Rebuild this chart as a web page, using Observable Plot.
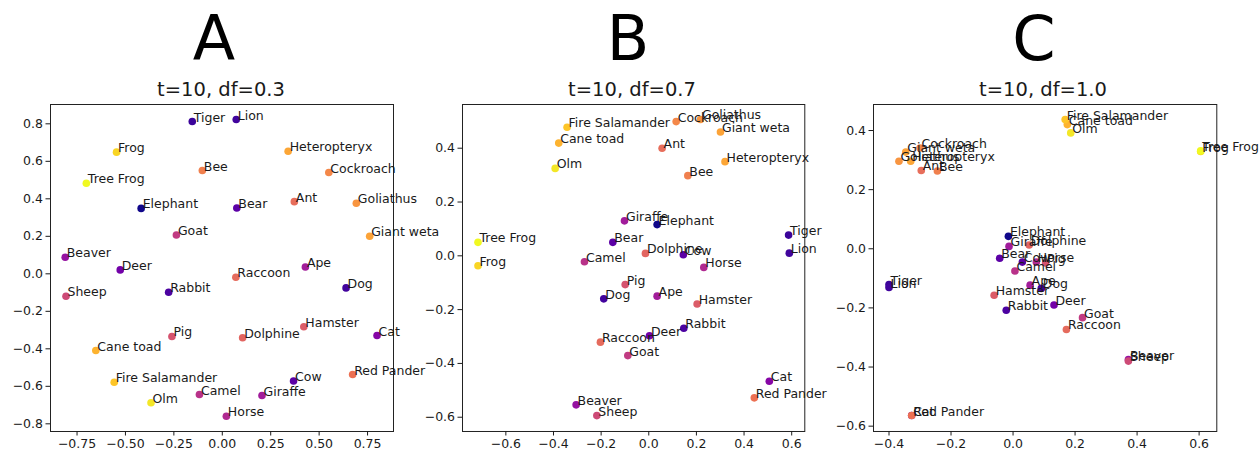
<!DOCTYPE html>
<html>
<head>
<meta charset="utf-8">
<script src="https://cdn.jsdelivr.net/npm/d3@7"></script>
<script src="https://cdn.jsdelivr.net/npm/@observablehq/plot@0.6"></script>
<style>
  html, body { margin: 0; padding: 0; background: #fff; }
  #root { position: relative; width: 1260px; height: 452px; overflow: hidden; background: #fff; font-family: "DejaVu Sans", sans-serif; color: #1a1a1a; }
  .big { position: absolute; top: 7.5px; font-size: 62px; line-height: 62px; transform: translateX(-50%); white-space: nowrap; color: #000; }
  .sub { position: absolute; top: 79.5px; font-size: 19.5px; line-height: 19.5px; transform: translateX(-50%); white-space: nowrap; color: #1a1a1a; }
  .panel { position: absolute; top: 95px; }
  .panel svg { overflow: visible !important; background: transparent !important; }
</style>
</head>
<body>
<div id="root"></div>
<script>
// ---- data ----
const animals = ["Tiger","Lion","Frog","Heteropteryx","Bee","Cockroach","Tree Frog","Elephant","Bear","Ant",
  "Goliathus","Goat","Giant weta","Beaver","Deer","Ape","Raccoon","Dog","Sheep","Rabbit",
  "Hamster","Pig","Dolphine","Cat","Cane toad","Red Pander","Fire Salamander","Cow","Camel","Giraffe",
  "Olm","Horse"];
const animalColors = ["#3b049a","#41049d","#f9d524","#fca636","#f0804e","#f48849","#f0f921","#10078a","#5c01a6","#e76e5b",
  "#f89540","#c13b82","#fca338","#9512a1","#7201a8","#a21d9a","#e56b5d","#42039d","#cd4a76","#4c02a1",
  "#db5c68","#d5536f","#e26561","#8606a6","#fdb32f","#ec7053","#fdc527","#5b01a5","#b83289","#a11c9b",
  "#f3e727","#b02991"];
// Panel A: t=10, df=0.3
const aX = [-0.155,0.072,-0.546,0.340,-0.103,0.550,-0.702,-0.419,0.075,0.372,
  0.692,-0.237,0.761,-0.811,-0.527,0.429,0.070,0.639,-0.807,-0.277,
  0.421,-0.260,0.105,0.799,-0.653,0.673,-0.558,0.368,-0.118,0.205,
  -0.368,0.021];
const aY = [0.812,0.823,0.649,0.654,0.551,0.54,0.483,0.349,0.351,0.385,
  0.376,0.207,0.2,0.088,0.021,0.036,-0.018,-0.075,-0.12,-0.098,
  -0.282,-0.334,-0.341,-0.329,-0.409,-0.537,-0.578,-0.572,-0.644,-0.649,
  -0.688,-0.76];
// Panel B: t=10, df=0.7
const bX = [0.587,0.59,-0.717,0.32,0.164,0.115,-0.717,0.035,-0.151,0.056,
  0.217,-0.088,0.301,-0.305,0.003,0.035,-0.203,-0.189,-0.218,0.147,
  0.203,-0.099,-0.014,0.506,-0.378,0.443,-0.343,0.145,-0.27,-0.102,
  -0.393,0.231];
const bY = [0.077,0.01,-0.037,0.35,0.298,0.499,0.05,0.116,0.05,0.40,
  0.507,-0.371,0.46,-0.554,-0.297,-0.15,-0.321,-0.16,-0.594,-0.269,
  -0.179,-0.107,0.009,-0.466,0.419,-0.528,0.478,0.004,-0.022,0.13,
  0.325,-0.043];
// Panel C: t=10, df=1.0
const cX = [-0.40,-0.40,0.605,-0.33,-0.244,-0.30,0.605,-0.015,-0.043,-0.296,
  -0.368,0.224,-0.346,0.372,0.132,0.055,0.172,0.091,0.372,-0.022,
  -0.061,0.105,0.052,-0.327,0.175,-0.327,0.168,0.03,0.006,-0.013,
  0.186,0.075];
const cY = [-0.121,-0.131,0.329,0.296,0.263,0.341,0.331,0.042,-0.032,0.265,
  0.296,-0.233,0.327,-0.375,-0.19,-0.123,-0.273,-0.134,-0.38,-0.208,
  -0.157,-0.048,0.013,-0.564,0.42,-0.564,0.437,-0.045,-0.075,0.008,
  0.392,-0.045];

const panelLetters = ["A","B","C"];
const panelTitles = ["t=10, df=0.3","t=10, df=0.7","t=10, df=1.0"];
const aXTicks = [-0.75,-0.5,-0.25,0,0.25,0.5,0.75];
const aYTicks = [-0.8,-0.6,-0.4,-0.2,0,0.2,0.4,0.6,0.8];
const bXTicks = [-0.6,-0.4,-0.2,0,0.2,0.4,0.6];
const bYTicks = [-0.6,-0.4,-0.2,0,0.2,0.4];
const cXTicks = [-0.4,-0.2,0,0.2,0.4,0.6];
const cYTicks = [-0.6,-0.4,-0.2,0,0.2,0.4];

// ---- layout ----
const panels = [
  {xs: aX, ys: aY, xTicks: aXTicks, yTicks: aYTicks, xFmt: ".2f", yFmt: ".1f",
   xDomain: [-0.887, 0.884], yDomain: [-0.841, 0.903], frameL: 50, frameR: 393, letterX: 214, subX: 221},
  {xs: bX, ys: bY, xTicks: bXTicks, yTicks: bYTicks, xFmt: ".1f", yFmt: ".1f",
   xDomain: [-0.782, 0.655], yDomain: [-0.653, 0.5625], frameL: 461.7, frameR: 804, letterX: 628, subX: 632},
  {xs: cX, ys: cY, xTicks: cXTicks, yTicks: cYTicks, xFmt: ".1f", yFmt: ".1f",
   xDomain: [-0.45, 0.657], yDomain: [-0.618, 0.488], frameL: 872.7, frameR: 1216, letterX: 1034, subX: 1043}
];
const svgTop = 95, frameTop = 104, frameBottom = 431, svgHeight = 357;

const root = document.getElementById("root");
panels.forEach((p, i) => {
  const data = animals.map((name, k) => ({name, x: p.xs[k], y: p.ys[k], color: animalColors[k]}));
  const left = p.frameL - 52;
  const width = (p.frameR - p.frameL) + 52 + 8;
  const chart = Plot.plot({
    width, height: svgHeight,
    marginLeft: 52, marginRight: 8,
    marginTop: frameTop - svgTop, marginBottom: svgHeight - (frameBottom - svgTop),
    style: {fontFamily: "DejaVu Sans, sans-serif", fontSize: "12.5px", color: "#1a1a1a", background: "transparent", overflow: "visible"},
    x: {domain: p.xDomain},
    y: {domain: p.yDomain},
    color: {type: "identity"},
    marks: [
      Plot.frame({stroke: "#222", strokeWidth: 1}),
      Plot.axisX({ticks: p.xTicks, tickFormat: d3.format(p.xFmt), tickSize: 4.5, tickPadding: 3, fontSize: 12.5, label: null}),
      Plot.axisY({ticks: p.yTicks, tickFormat: d3.format(p.yFmt), tickSize: 4.5, tickPadding: 3, fontSize: 12.5, label: null}),
      Plot.dot(data, {x: "x", y: "y", r: 3.8, fill: "color", stroke: null}),
      Plot.text(data, {x: "x", y: "y", text: "name", textAnchor: "start", lineAnchor: "bottom", dx: 1.5, fontSize: 12.5, fill: "#1a1a1a"})
    ]
  });
  const holder = document.createElement("div");
  holder.className = "panel";
  holder.style.left = left + "px";
  holder.appendChild(chart);
  root.appendChild(holder);

  const big = document.createElement("div");
  big.className = "big";
  big.style.left = p.letterX + "px";
  big.textContent = panelLetters[i];
  root.appendChild(big);

  const sub = document.createElement("div");
  sub.className = "sub";
  sub.style.left = p.subX + "px";
  sub.textContent = panelTitles[i];
  root.appendChild(sub);
});
</script>
</body>
</html>
